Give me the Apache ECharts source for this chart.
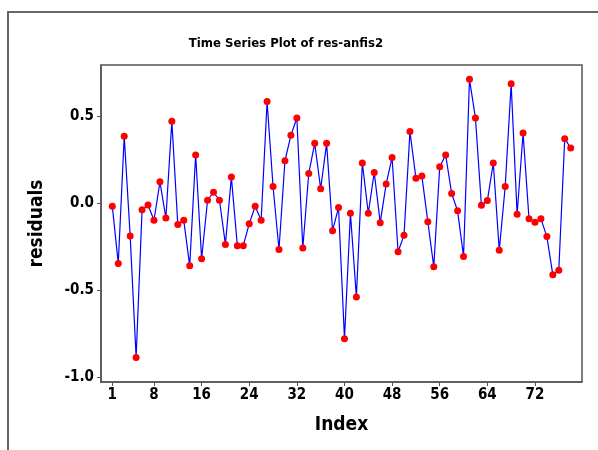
<!DOCTYPE html>
<html>
<head>
<meta charset="utf-8">
<script src="https://cdn.jsdelivr.net/npm/echarts@6/dist/echarts.min.js"></script>
<style>html,body{margin:0;padding:0;background:#fff;}#c{width:598px;height:450px;}</style>
</head>
<body>
<div id="c"></div>
<script>
const titleText = 'Time Series Plot of res-anfis2';
const xName = 'Index';
const yName = 'residuals';
const xTicks = [1, 8, 16, 24, 32, 40, 48, 56, 64, 72];
const yTicks = [-1.0, -0.5, 0.0, 0.5];
const residuals = [
  -0.02, -0.348, 0.383, -0.19, -0.889, -0.039, -0.012, -0.10, 0.121, -0.087,
  0.469, -0.125, -0.10, -0.362, 0.275, -0.321, 0.015, 0.061, 0.015, -0.239,
  0.148, -0.246, -0.246, -0.12, -0.02, -0.10, 0.583, 0.094, -0.268, 0.242,
  0.388, 0.488, -0.26, 0.169, 0.342, 0.081, 0.342, -0.16, -0.027, -0.781,
  -0.06, -0.542, 0.229, -0.06, 0.175, -0.114, 0.108, 0.261, -0.281, -0.187,
  0.41, 0.142, 0.154, -0.108, -0.368, 0.208, 0.275, 0.054, -0.046, -0.308,
  0.71, 0.488, -0.014, 0.013, 0.229, -0.273, 0.094, 0.684, -0.066, 0.402,
  -0.092, -0.112, -0.092, -0.194, -0.414, -0.387, 0.369, 0.315
];

const FONT = "'DejaVu Sans Condensed', 'DejaVu Sans', sans-serif";
const chart = echarts.init(document.getElementById('c'), null, {renderer: 'canvas'});
const seriesData = residuals.map((v, i) => [i + 1, v]);

chart.setOption({
  animation: false,
  backgroundColor: '#fff',
  title: {
    text: titleText,
    left: 281, top: 32, textAlign: 'center',
    textStyle: {fontFamily: FONT, fontWeight: 'bold', fontSize: 13, color: '#000'}
  },
  graphic: [{
    type: 'rect',
    shape: {x: 8, y: 12, width: 700, height: 600},
    style: {fill: 'none', stroke: '#666', lineWidth: 2},
    silent: true
  }],
  grid: {
    left: 101, top: 65, right: 16, bottom: 68,
    show: true, borderColor: '#555', borderWidth: 1.5, backgroundColor: '#fff'
  },
  xAxis: {
    type: 'value', min: -0.9, max: 79.9,
    name: xName, nameLocation: 'middle', nameGap: 34,
    nameTextStyle: {fontFamily: FONT, fontWeight: 'bold', fontSize: 19, color: '#000'},
    axisLine: {show: true, onZero: false, lineStyle: {color: '#555', width: 1.5}},
    axisTick: {show: true, length: 4, inside: false, customValues: xTicks, lineStyle: {color: '#555'}},
    axisLabel: {customValues: xTicks, fontFamily: FONT, fontWeight: 'bold', fontSize: 15, color: '#000', margin: 6},
    splitLine: {show: false}
  },
  yAxis: {
    type: 'value', min: -1.03, max: 0.7925,
    name: yName, nameLocation: 'middle', nameGap: 54, nameRotate: 90,
    nameTextStyle: {fontFamily: FONT, fontWeight: 'bold', fontSize: 19, color: '#000'},
    axisLine: {show: true, onZero: false, lineStyle: {color: '#555', width: 1.5}},
    axisTick: {show: true, length: 4, inside: false, customValues: yTicks, lineStyle: {color: '#555'}},
    axisLabel: {customValues: yTicks, formatter: v => v.toFixed(1), fontFamily: FONT, fontWeight: 'bold', fontSize: 15, color: '#000', margin: 7},
    splitLine: {show: false}
  },
  series: [{
    type: 'line',
    data: seriesData,
    symbol: 'circle', symbolSize: 7,
    itemStyle: {color: '#ff0000', borderWidth: 0},
    lineStyle: {color: '#0000ff', width: 1.2},
    z: 3
  }]
});
</script>
</body>
</html>
